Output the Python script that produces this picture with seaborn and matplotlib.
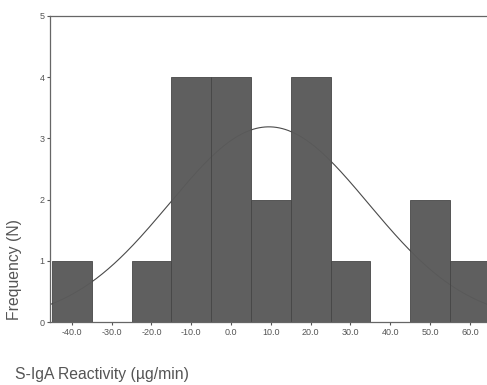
import numpy as np
import pandas as pd
import matplotlib
matplotlib.use("Agg")
import matplotlib.pyplot as plt
import seaborn as sns

# Histogram data (bin centres, width 10)
bin_centers = [-40, -30, -20, -10, 0, 10, 20, 30, 40, 50, 60]
counts = [1, 0, 1, 4, 4, 2, 4, 1, 0, 2, 1]
bin_width = 10
x_ticks = [-40, -30, -20, -10, 0, 10, 20, 30, 40, 50, 60]
y_ticks = [0, 1, 2, 3, 4, 5]

df = pd.DataFrame({"reactivity": bin_centers, "n": counts})
edges = [c - bin_width / 2 for c in bin_centers] + [bin_centers[-1] + bin_width / 2]

sns.set_theme(style="white")
plt.rcParams["font.family"] = ["Liberation Sans", "DejaVu Sans"]

fig = plt.figure(figsize=(4.87, 3.85), dpi=100)
ax = fig.add_axes([50 / 487, 1 - 322 / 385, 1 - 50 / 487, (322 - 16) / 385])

# fitted normal curve (from the histogram values), drawn behind the bars
vals = np.repeat(bin_centers, counts)
mu, sd = vals.mean(), vals.std(ddof=1)
xs = np.linspace(-45.5, 64.3, 300)
ys = len(vals) * bin_width * np.exp(-0.5 * ((xs - mu) / sd) ** 2) / (sd * np.sqrt(2 * np.pi))
ax.plot(xs, ys, color="#4a4a4a", lw=0.8, zorder=1)

sns.histplot(data=df, x="reactivity", weights="n", bins=edges, ax=ax,
             color="#5a5a5a", edgecolor="#464646", linewidth=0.6, alpha=0.97, zorder=2)

ax.set_xlim(-45.5, 64.3)
ax.set_ylim(0, 5)
ax.set_xticks(x_ticks)
ax.set_xticklabels([f"{t:.1f}" for t in x_ticks])
ax.set_yticks(y_ticks)
ax.tick_params(axis="both", direction="out", length=2, width=0.8, color="#555555",
               labelsize=6.5, labelcolor="#555555", pad=2, bottom=True, left=True)
ax.set_xlabel("")
ax.set_ylabel("")
for side in ["left", "bottom", "top"]:
    ax.spines[side].set_color("#666666")
    ax.spines[side].set_linewidth(0.9)
ax.spines["right"].set_visible(False)

fig.text(15 / 487, 1 - 375 / 385, "S-IgA Reactivity (µg/min)", fontsize=11.3,
         color="#555555", ha="left", va="center")
fig.text(15 / 487, 1 - 270 / 385, "Frequency (N)", fontsize=11.3, color="#555555",
         rotation=90, ha="center", va="center")

fig.savefig("out.png", dpi=100)
